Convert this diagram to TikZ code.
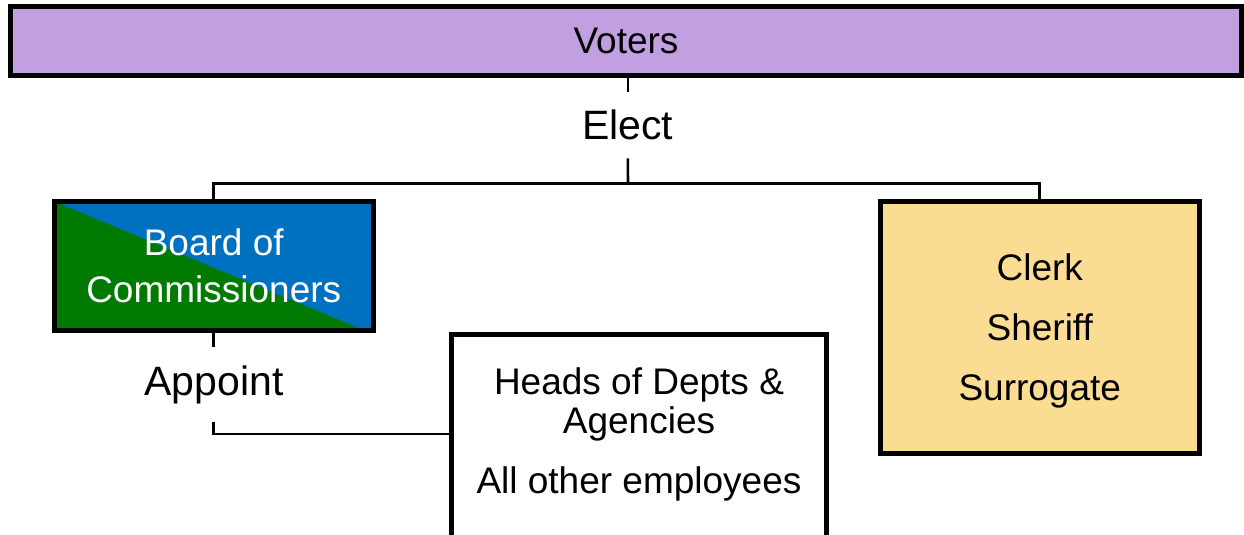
\documentclass[tikz,border=0pt]{standalone}
\usepackage{fontspec}
\setmainfont{Liberation Sans}
\usetikzlibrary{positioning}

\definecolor{voterpurple}{RGB}{194,159,225}
\definecolor{boardblue}{RGB}{0,112,192}
\definecolor{boardgreen}{RGB}{0,122,0}
\definecolor{officeyellow}{RGB}{250,221,147}

\newcommand\bodyfont{\fontsize{18.5}{19.5}\selectfont}
\newcommand\boardfont{\fontsize{18.5}{23.5}\selectfont}
\newcommand\lblfont{\fontsize{20.5}{22}\selectfont}

\tikzset{
  box/.style={draw,line width=2.5pt,inner sep=0pt,outer sep=0pt,align=center,font=\bodyfont},
  lbl/.style={inner xsep=0pt,inner ysep=9pt,outer sep=0pt,font=\lblfont},
  wire/.style={line width=1.3pt}
}

\begin{document}
\begin{tikzpicture}[x=0.5pt,y=-0.5pt]
  \useasboundingbox (0,0) rectangle (1244,535);
  % boxes
  \node[box,fill=voterpurple,minimum width=615.5pt,minimum height=34.25pt] (voters) at (626,41.25) {Voters};
  \node[box,text=white,font=\boardfont,minimum width=159.75pt,minimum height=64.25pt,
    path picture={
      \fill[boardblue] (path picture bounding box.south west) rectangle (path picture bounding box.north east);
      \fill[boardgreen] (path picture bounding box.north west) -- ([xshift=-5pt]path picture bounding box.south east) -- (path picture bounding box.south west) -- cycle;},
    postaction={draw,line width=2.5pt}] (board) at (213.75,265.75) {Board of\\Commissioners};
  \node[box,fill=officeyellow,text depth=0pt,minimum width=159.75pt,minimum height=126pt] (clerk) at (1039.75,327.5) {Clerk\\[10.5pt]Sheriff\\[10.5pt]Surrogate};
  \node[box,fill=white,minimum width=187.5pt,minimum height=113pt] (heads) at (639,447) {};
  \node[align=center,inner sep=0pt,text depth=0pt,font=\bodyfont] (headstext) at (639,430.5) {Heads of Depts \&\\Agencies\\[10.5pt]All other employees};
  % labels
  \node[lbl] (elect) at (627.8,125.3) {Elect};
  \node[lbl] (appoint) at (214,384.6) {Appoint};
  % connectors
  \coordinate (bus) at (628,183.5);
  \coordinate (tap) at (451.5,434);
  \draw[wire] (voters.south -| elect.north) -- (elect.north);
  \draw[wire] (elect.south) -- (bus);
  \draw[wire] (board.north) |- (bus) -| (clerk.north);
  \draw[wire] (board.south) -- (board.south |- appoint.north);
  \draw[wire] (board.south |- appoint.south) |- (tap);
\end{tikzpicture}
\end{document}
